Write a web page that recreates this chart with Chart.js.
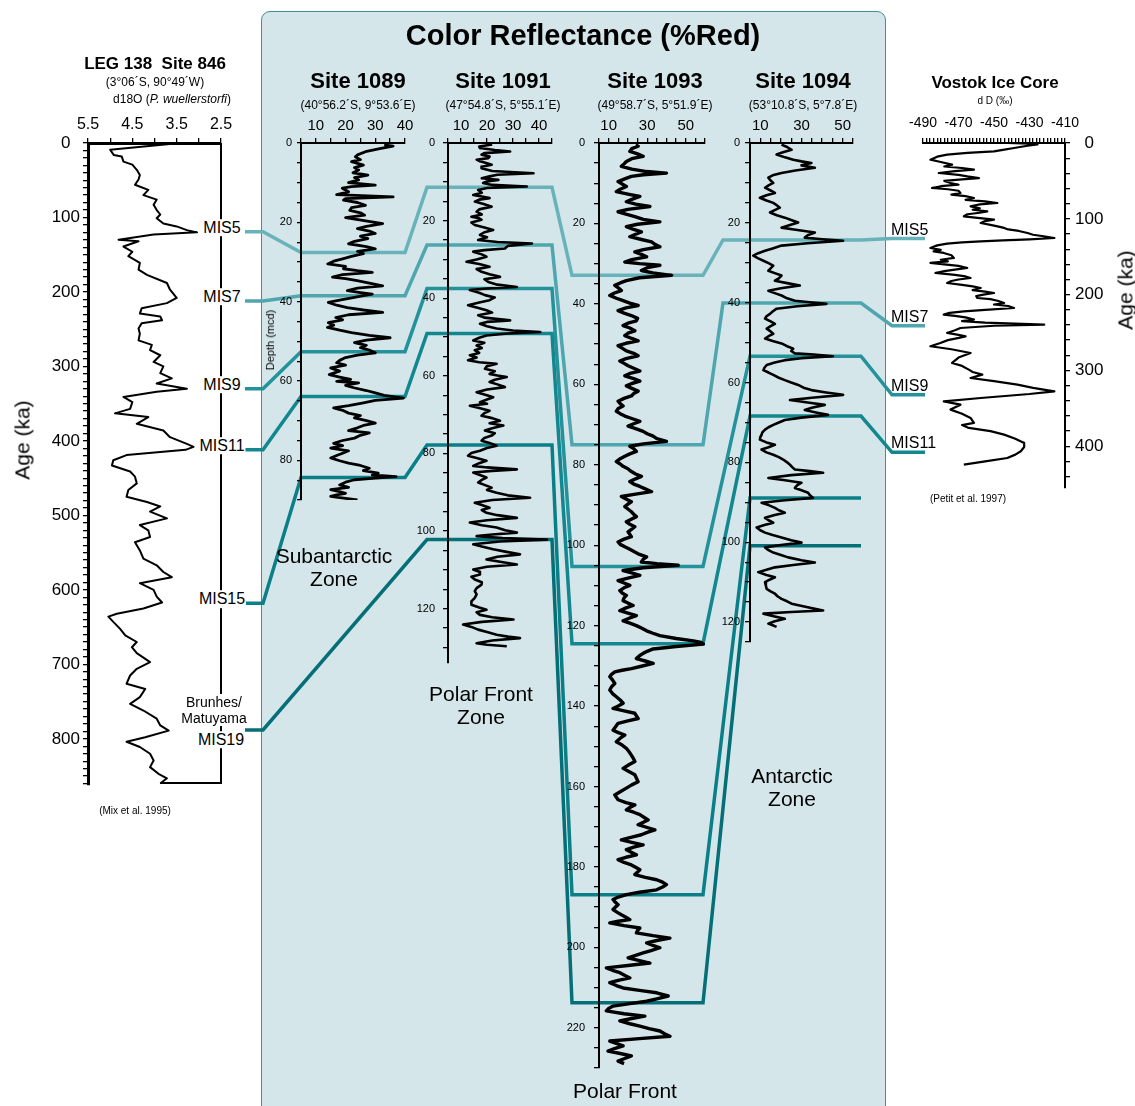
<!DOCTYPE html>
<html>
<head>
<meta charset="utf-8">
<script src="https://cdn.jsdelivr.net/npm/chart.js@4.4.0/dist/chart.umd.min.js"></script>
<style>
  body { margin: 0; background: #fff; font-family: 'Liberation Sans', Arial, sans-serif; }
  #page { position: relative; width: 1135px; height: 1106px; overflow: hidden; }
  .box { position: absolute; left: 261px; top: 11px; width: 623px; height: 1130px; background: #d4e6ea;
         border: 1.5px solid #3f9198; border-radius: 9px; z-index: 0; }
  canvas { position: absolute; }
  .t { position: absolute; transform: translate(-50%, -50%); white-space: nowrap; line-height: 1.1;
       text-align: center; color: #000; z-index: 5; }
</style>
</head>
<body>
<div id="page"><div class="box"></div></div>
<script>
// ---- data -------------------------------------------------------------

// LEG 138 Site 846, d18O vs age (ka)
const ageLeg138 = [0, 9, 16, 18, 25, 29, 36, 43, 49, 56, 63, 70, 76, 83, 90, 96, 101, 108, 112, 117, 120, 123, 130, 132, 139, 146, 152, 161, 170, 177, 188, 197, 208, 215, 222, 229, 233, 238, 242, 249, 256, 265, 271, 278, 285, 294, 300, 309, 316, 323, 330, 334, 341, 348, 357, 363, 368, 377, 386, 395, 404, 408, 412, 419, 426, 433, 441, 448, 457, 466, 475, 482, 488, 495, 504, 513, 520, 529, 536, 547, 558, 567, 576, 583, 591, 600, 609, 617, 625, 632, 636, 643, 652, 661, 670, 677, 685, 697, 706, 715, 726, 733, 744, 753, 762, 773, 782, 789, 798, 804, 811, 820, 829, 838, 847, 853, 860];
const d18O = [3.42, 5.0, 4.92, 4.74, 4.7, 4.5, 4.4, 4.33, 4.36, 4.44, 4.14, 4.25, 3.95, 4.02, 3.95, 3.87, 3.95, 3.8, 3.5, 3.27, 3.04, 4.02, 4.81, 4.36, 4.7, 4.5, 4.59, 4.33, 4.36, 4.17, 3.72, 3.65, 3.5, 3.72, 4.29, 4.33, 3.87, 3.83, 4.29, 4.36, 4.33, 4.36, 4.06, 4.1, 3.87, 4.02, 3.8, 3.87, 3.61, 3.95, 3.27, 3.95, 4.7, 4.5, 4.55, 4.89, 4.14, 4.4, 3.8, 3.65, 3.27, 3.12, 3.3, 4.63, 4.93, 4.96, 4.55, 4.44, 4.4, 4.59, 4.63, 4.17, 3.87, 4.1, 3.72, 4.33, 4.14, 4.1, 4.44, 4.33, 4.25, 3.95, 3.8, 3.61, 4.33, 4.02, 3.95, 3.83, 4.25, 4.85, 5.04, 4.93, 4.78, 4.66, 4.4, 4.51, 4.4, 4.1, 4.4, 4.55, 4.63, 4.21, 4.33, 4.55, 4.25, 3.95, 3.87, 3.68, 4.21, 4.63, 4.33, 4.1, 4.02, 4.1, 3.91, 3.72, 3.87];

// Site 1089, %Red vs depth (mcd)
const depth1089 = [0.5, 0.8, 1.4, 2.2, 3.0, 3.5, 4.2, 4.7, 5.6, 6.2, 6.8, 7.5, 8.1, 8.7, 9.3, 10, 10.6, 11.0, 11.4, 12.3, 13, 13.6, 14.0, 14.4, 15.0, 15.7, 16.3, 17, 17.6, 18.2, 18.8, 20.3, 21.0, 21.6, 22.2, 22.8, 23.5, 24.1, 24.8, 25.4, 26.1, 26.7, 27.3, 27.9, 28.6, 29.2, 29.8, 30.5, 31.1, 31.7, 32.2, 32.6, 33.2, 33.8, 34.2, 34.7, 35.3, 36, 36.6, 37.2, 37.7, 38.1, 38.5, 38.9, 39.6, 40.2, 40.9, 41.5, 42.1, 42.7, 43.3, 44, 44.6, 45.3, 45.9, 46.5, 47.2, 47.8, 48.5, 49.1, 49.7, 50.3, 51, 51.6, 52.2, 52.9, 53.5, 54.1, 54.8, 55.4, 56, 56.7, 57.5, 58.4, 59, 59.6, 60.1, 60.5, 61.1, 61.7, 62.4, 63, 63.6, 64.3, 64.9, 65.5, 66.2, 66.8, 67.4, 68.1, 68.7, 69.3, 70, 70.6, 71.2, 71.8, 72.5, 73.1, 73.7, 74.4, 75, 75.7, 76.3, 76.9, 77.6, 78.2, 78.8, 79.4, 80.1, 80.7, 81.3, 82, 82.6, 83.2, 83.7, 84.1, 84.5, 84.9, 85.5, 86.2, 86.8, 87.4, 87.9, 88.3, 88.7, 89.1, 89.6, 90];
const red1089 = [33, 36, 31.5, 26.7, 24, 23.3, 25, 22, 26, 23, 24.4, 22.5, 27.5, 23, 24.4, 21, 30, 22, 18.9, 21, 17, 36, 20, 19.3, 24, 26.7, 22, 21.4, 25, 26.4, 20, 32.5, 27, 24, 28, 30, 25, 27.5, 23, 21, 27, 30, 24, 26, 22, 19, 16, 14, 20, 19.3, 24, 29, 19, 15.6, 20, 23.9, 28, 32.5, 24, 20.6, 25, 29, 26, 23, 18, 14.2, 17, 20.6, 26, 32.5, 21, 16.7, 19, 14.2, 16, 13.9, 18, 22, 28, 35, 27, 23, 27, 25, 28, 30, 24, 20, 18, 17, 20, 15, 18, 14.5, 18, 21.7, 17, 24.4, 20, 22.8, 27, 30, 33, 39.5, 30, 26, 21, 16, 19, 21, 25, 23, 27, 30, 26, 24, 21, 28, 25, 23, 19, 16, 19, 15, 21, 19, 17, 15, 18, 21, 25, 28, 26, 31, 29, 37, 30, 23, 20, 18, 21, 15, 18, 20, 17, 15, 20, 24];

// Site 1091
const depth1091 = [0.4, 0.9, 1.3, 1.8, 2.2, 2.6, 3, 3.5, 3.9, 4.3, 4.7, 5.2, 5.6, 6.1, 6.5, 7.2, 7.8, 8.2, 8.6, 9.1, 9.5, 9.9, 10.3, 10.8, 11.2, 11.6, 12.1, 12.8, 13.4, 13.8, 14.2, 14.6, 15.1, 15.8, 16.4, 17.1, 17.7, 18.4, 19, 19.4, 19.8, 20.5, 21.1, 21.8, 22.4, 23, 23.7, 24.3, 25, 25.5, 25.9, 26.5, 27.2, 27.6, 28, 28.7, 29.3, 30, 30.6, 31.2, 31.9, 32.5, 33.2, 33.8, 34.5, 35.1, 35.8, 36.5, 37.1, 37.5, 37.9, 38.6, 39.2, 39.8, 40.5, 41.1, 41.8, 42.4, 43.1, 43.7, 44.4, 45, 45.7, 46.1, 46.6, 47.2, 47.8, 48.3, 48.7, 49.1, 49.6, 50.2, 50.9, 51.5, 52.2, 52.8, 53.4, 54.1, 54.7, 55.3, 56, 56.5, 56.9, 57.5, 58.2, 58.8, 59.5, 59.9, 60.3, 61, 61.6, 62.2, 62.9, 63.5, 64.2, 64.8, 65.5, 66.1, 66.8, 67.2, 67.7, 68.3, 69, 69.6, 70.3, 70.9, 71.6, 72.2, 72.8, 73.5, 74.1, 74.8, 75.4, 76, 76.7, 77.3, 78, 78.6, 79.3, 79.9, 80.6, 81.2, 81.9, 82.5, 83.2, 83.6, 84.1, 84.5, 84.9, 85.5, 86.2, 86.8, 87.5, 88.1, 88.8, 89.4, 90.1, 90.8, 91.4, 92, 92.7, 93.3, 94, 94.6, 95.3, 95.9, 96.6, 97.2, 97.8, 98.5, 99.1, 99.8, 100.4, 100.9, 101.3, 101.8, 102.2, 102.7, 103.4, 104, 104.7, 105.3, 106, 106.6, 107.3, 107.9, 108.6, 109.2, 109.9, 110.5, 111.2, 111.8, 112.5, 113.2, 113.8, 114.7, 115.5, 116.3, 117.2, 118.1, 119, 119.7, 120.3, 120.9, 121.6, 122.2, 122.8, 123.4, 124.1, 124.7, 125.4, 126, 126.7, 127.2, 127.6, 128.2, 128.9, 129.3, 129.7];
const red1091 = [22, 17, 17.3, 23, 28.9, 19, 17.9, 21, 20.5, 16, 17.3, 20, 21.8, 18, 17.9, 22, 37.9, 24, 21, 18, 24.4, 20, 18.5, 22, 35.3, 20, 16.6, 18, 14.7, 18, 21, 17, 15.3, 19, 21.8, 17, 16, 18, 14, 17, 17.9, 14, 15.3, 19, 22.4, 19, 17.3, 20, 16.6, 24, 37.3, 28, 26.9, 19, 14.7, 18, 19.8, 16, 12.1, 17, 21, 16, 17.9, 21, 25, 19, 20.5, 24, 31.5, 20, 13.4, 17, 19.2, 23, 21, 17, 12.7, 16, 19.8, 22, 16.6, 19, 28.9, 20, 17.3, 20, 23.7, 30, 40.5, 28, 19.8, 17, 14.7, 19, 16, 18, 15.3, 17, 13.4, 16, 12.7, 17, 23.7, 20, 19.2, 23, 21, 24, 27.6, 23, 21, 24, 26.9, 20, 16, 19, 22.4, 20, 17.3, 20, 13.4, 17, 21, 19, 17.9, 22, 25, 21, 26.3, 22, 19.2, 23, 21.8, 19, 17.9, 21, 23.7, 20, 17.3, 14, 12.7, 16, 19.8, 17, 14.7, 20, 31.5, 22, 14.7, 17, 19.8, 18, 16.6, 19, 21.8, 20, 23.7, 28, 36.6, 22, 15.3, 18, 21, 18, 19.8, 24, 31.5, 20, 13.4, 18, 23.7, 27, 31.5, 22, 16, 26, 43, 25, 14.7, 18, 22.4, 27, 32.7, 24, 19.8, 25, 31.5, 20, 14.7, 17, 17.3, 14, 15.3, 18, 17.9, 16, 15.3, 16, 15.3, 14, 14, 17, 19.8, 16, 17.3, 22, 30.2, 18, 10.8, 14, 16.6, 20, 23.7, 28, 32.7, 22, 16, 20, 27.6];

// Site 1093
const depth1093 = [0.5, 0.8, 1.4, 2.1, 2.7, 3.3, 3.9, 4.6, 5.2, 5.8, 6.5, 7.1, 7.5, 7.9, 8.3, 9, 9.6, 10.2, 10.8, 11.5, 12.1, 12.7, 13.3, 14, 14.6, 15.2, 15.8, 16.5, 17.1, 17.7, 18.3, 19, 19.6, 20.2, 20.8, 21.5, 22.1, 22.7, 23.3, 24, 24.6, 25.2, 25.8, 26.5, 27.1, 27.7, 28.3, 29, 29.6, 30, 30.4, 31, 31.7, 32.3, 32.9, 33.5, 34.2, 34.8, 35.4, 36, 36.7, 37.3, 37.9, 38.6, 39.2, 39.8, 40.4, 41, 41.7, 42.3, 42.9, 43.6, 44.2, 44.8, 45.4, 46, 46.7, 47.3, 47.9, 48.6, 49.2, 49.8, 50.4, 51, 51.7, 52.3, 52.9, 53.6, 54.2, 54.8, 55.4, 56, 56.7, 57.3, 57.9, 58.6, 59.2, 59.8, 60.4, 61, 61.7, 62.3, 62.9, 63.5, 64.2, 64.8, 65.4, 66, 66.7, 67.3, 67.9, 68.5, 69.2, 69.8, 70.4, 71, 71.7, 72.3, 72.9, 73.5, 74.2, 74.8, 75.4, 76, 76.7, 77.3, 77.9, 78.5, 79.2, 79.8, 80.4, 81, 81.7, 82.3, 82.9, 83.5, 84.2, 84.8, 85.4, 86, 86.7, 87.3, 87.9, 88.5, 89.2, 89.8, 90.4, 91, 91.7, 92.3, 92.9, 93.5, 94.2, 94.8, 95.4, 96, 96.7, 97.3, 97.9, 98.5, 99.2, 99.8, 100.4, 101, 101.7, 102.3, 102.9, 103.5, 104.2, 104.6, 105, 105.6, 106.3, 106.9, 107.5, 108.2, 108.8, 109.4, 110, 110.6, 111.3, 111.9, 112.5, 113.1, 113.8, 114.4, 115, 115.6, 116.3, 116.9, 117.5, 118.1, 118.8, 119.4, 120, 120.6, 121.3, 121.9, 122.5, 123.2, 123.8, 124.2, 124.6, 125.2, 125.8, 126.4, 126.9, 127.5, 128.2, 128.8, 129.4, 130.1, 130.7, 131.1, 131.5, 132.1, 132.7, 133.5, 134.4, 135.2, 136, 136.9, 137.7, 138.5, 139.3, 140, 140.6, 141.2, 141.8, 142.5, 143.1, 143.7, 144.3, 145.2, 146, 146.6, 147.2, 148, 148.9, 149.7, 150.5, 151.3, 152.2, 153, 153.8, 154.6, 155.5, 156.3, 157.1, 158, 158.8, 159.6, 160.4, 161.3, 162.1, 162.7, 163.3, 164, 164.6, 165.2, 165.8, 166.4, 167, 167.7, 168.3, 168.9, 169.5, 170.2, 170.8, 171.4, 172, 172.7, 173.3, 173.9, 174.5, 175.1, 175.7, 176.4, 177, 177.6, 178.2, 178.9, 179.5, 180.1, 180.7, 181.3, 181.9, 182.6, 183.2, 183.8, 184.4, 185, 185.7, 186.3, 186.9, 187.5, 188.1, 188.8, 189.4, 190, 190.6, 191.3, 191.9, 192.5, 193.1, 193.5, 193.9, 194.6, 195.2, 195.8, 196.4, 197.1, 197.7, 198.3, 198.9, 199.5, 200.1, 200.8, 201.4, 202, 202.6, 203.3, 203.9, 204.5, 205.1, 205.7, 206.3, 207, 207.6, 208.2, 208.8, 209.5, 210.1, 210.7, 211.3, 212.1, 212.8, 213.4, 214, 214.6, 215.2, 215.8, 216.5, 217.1, 217.7, 218.3, 219, 219.6, 220.2, 220.8, 221.5, 222.1, 222.7, 223.3, 223.9, 224.5, 225.2, 225.8, 226.4, 227, 227.7, 228.3, 228.9];
const red1093 = [24, 25.3, 22, 21, 25, 27.9, 22, 19.2, 18, 16.6, 22, 29.7, 40, 28, 21.8, 18, 14.9, 17, 19.2, 16, 14, 20, 26.2, 22, 19.2, 24, 31.4, 20, 14.9, 19, 23.6, 28, 36.6, 25, 19.2, 23, 27, 24, 21, 27, 32.3, 34, 36.6, 28, 23.6, 27, 29.7, 22, 18.4, 26, 36.6, 30, 27, 33, 42.7, 26, 19.2, 16, 13.2, 15, 16.6, 13, 10.6, 14, 17.5, 21, 25.3, 19, 14.9, 18, 21.8, 25, 24.4, 20, 17.5, 21, 23.6, 20, 18.4, 22, 25.3, 19, 14.9, 17, 19.2, 23, 25.3, 19, 15.8, 18, 20.1, 23, 26.2, 21, 18.4, 23, 26.2, 22, 19.2, 22, 25.3, 23, 21.8, 18, 14.9, 16, 17.5, 15, 14, 16, 18.4, 22, 26.2, 23, 20.1, 24, 27.9, 30, 33.1, 35, 40, 28, 21, 23, 24.4, 21, 18.4, 16, 14, 16, 17.5, 20, 21.8, 24, 27, 24, 21, 23, 26.2, 29, 32.3, 24, 16.6, 19, 21.8, 20, 18.4, 20, 21.8, 23, 24.4, 22, 19.2, 21, 23.6, 22, 20.1, 21, 21.8, 18, 14.9, 16, 18.4, 21, 23.6, 26, 29.7, 28, 27, 35, 46.1, 28, 17.5, 22, 26.2, 20, 14.9, 18, 21, 18, 15.8, 17, 19.2, 18, 17.5, 20, 22.7, 19, 15.8, 20, 24.4, 21, 17.5, 21, 24.4, 27, 29.7, 33, 36.6, 45, 54, 58, 59.2, 45, 33.1, 30, 27.9, 26, 24.4, 29, 33.1, 27, 21.8, 17, 13.2, 11.5, 10.6, 12, 13.2, 11.5, 10.6, 12, 14, 16, 17.5, 15, 12.3, 18, 23.6, 24.5, 25.3, 20, 14.9, 13.5, 12.3, 15, 18.4, 16, 14, 17, 19.2, 20.5, 21.8, 22.8, 23.6, 20.5, 17.5, 20.5, 23.6, 24.5, 25.3, 22, 19.2, 16, 13.2, 14, 14.9, 19, 23.6, 21, 19.2, 23, 26.2, 28.5, 30.5, 28, 25.3, 30, 34, 30, 27, 21, 16.6, 22, 27.9, 23, 19.2, 22, 24.4, 19, 14.9, 18, 21.8, 24, 26.2, 25, 23.6, 29, 34.9, 38, 40, 38, 34.9, 26, 19.2, 15, 12.3, 13.5, 14.9, 13.5, 12.3, 14.5, 16.6, 19, 21, 15, 10.6, 18, 26.2, 25, 24.4, 33, 41.8, 35, 29.7, 33, 36.6, 32, 27.9, 24, 20.1, 26, 31.4, 20, 8.8, 12, 15.8, 18.5, 21, 15, 10.6, 14, 17.5, 26, 34.9, 40.9, 35, 29.7, 21, 12.3, 10, 8.8, 18, 28.8, 22, 15.8, 21, 26.2, 31, 36.6, 39, 41.8, 26, 10.6, 14, 17.5, 13, 9.7, 16, 21.8, 18, 14.9, 18];

// Site 1094
const depth1094 = [0.4, 1, 1.7, 2.3, 2.9, 3.6, 4.2, 4.6, 5, 5.6, 6.2, 6.9, 7.5, 8.1, 8.7, 9.4, 10, 10.6, 11.2, 11.9, 12.5, 13.1, 13.7, 14.4, 15, 15.6, 16.2, 16.8, 17.4, 18.1, 18.7, 19.3, 19.9, 20.6, 21.2, 21.8, 22.4, 23.1, 23.7, 24.1, 24.5, 25.1, 25.7, 26.4, 27, 27.6, 28.2, 28.9, 29.5, 30.1, 30.7, 31.4, 32, 32.6, 33.2, 33.9, 34.5, 35.1, 35.7, 36.4, 37, 37.6, 38.2, 38.9, 39.5, 39.9, 40.3, 40.9, 41.5, 42.2, 42.8, 43.4, 44, 44.7, 45.3, 45.9, 46.5, 47.2, 47.8, 48.4, 49, 49.6, 50.2, 50.9, 51.5, 52.1, 52.7, 53, 53.4, 53.9, 54.4, 55, 55.6, 56.3, 56.9, 57.5, 58.1, 58.8, 59.4, 60, 60.6, 61.3, 61.9, 62.5, 63.1, 63.8, 64.4, 65, 65.6, 66.3, 66.9, 67.5, 68.1, 68.8, 69.4, 70, 70.6, 71.2, 71.8, 72.5, 73.1, 73.7, 74.3, 75, 75.6, 76.2, 76.8, 77.5, 78.1, 78.7, 79.3, 80, 80.6, 81.2, 81.8, 82.2, 82.6, 83.2, 83.9, 84.5, 85.1, 85.7, 86.4, 87, 87.6, 88.2, 88.9, 89.5, 90.1, 90.7, 91.4, 92, 92.6, 93.2, 93.9, 94.5, 95.1, 95.7, 96.3, 97, 97.6, 98.2, 98.8, 99.5, 100.1, 100.7, 101.3, 102, 102.6, 103.2, 103.8, 104.5, 105.1, 105.7, 106.3, 106.9, 107.5, 108.2, 108.8, 109.4, 110, 110.9, 111.7, 112.3, 112.9, 113.6, 114.2, 114.8, 115.4, 116.3, 117.1, 117.5, 117.9, 118.6, 119.2, 119.8, 120.4, 120.8, 121.2];
const red1094 = [20.3, 23, 25.2, 21, 17.9, 22, 26, 30, 34.8, 30, 36.5, 27, 20.3, 16, 13.9, 15, 16.3, 14, 12.3, 15, 17.1, 13, 9.8, 13, 16.3, 18, 19.5, 17, 14.7, 18, 21.9, 25, 28.4, 24, 20.3, 28, 36.5, 33, 31.6, 40, 50.2, 33, 20.3, 16, 12.3, 9, 6.6, 9, 11.5, 14, 16.3, 15, 13.9, 17, 20.3, 19, 17.1, 23, 29.2, 20, 13.9, 17, 20.3, 23, 26.8, 34, 42.1, 28, 17.9, 16, 14.7, 13, 12.3, 15, 17.1, 15, 13.1, 15, 16.3, 14, 12.3, 16, 20.3, 23, 26, 25, 26.8, 36, 45.3, 30, 21.9, 17, 13.1, 12, 11.5, 14, 16.3, 19, 21.9, 25, 28.4, 31, 34.8, 42, 50.2, 35, 24.4, 33, 41.3, 35, 31.6, 37, 42.9, 30, 21.9, 19, 16.3, 14, 12.3, 11, 10.6, 10, 9.8, 13, 17.1, 14, 10.6, 13, 16.3, 19, 21.1, 23, 24.4, 25.5, 26.8, 34, 40.5, 25, 13.9, 22, 30, 28, 26.8, 30, 33.2, 34, 35.6, 22, 10.6, 14, 17.1, 19, 21.9, 17, 12.3, 14, 16.3, 12, 8.2, 10, 12.3, 16, 20.3, 25, 30, 20, 12.3, 14, 16.3, 20, 23.5, 30, 36.5, 26, 17.1, 13, 9, 13, 17.1, 14.5, 12.3, 12.7, 13.1, 15, 17.1, 18.5, 20.3, 23, 25.2, 33, 40.5, 25, 11.5, 17, 21.9, 17, 13.9, 16, 17.9];

// Vostok ice core, dD vs age (ka)
const ageVostok = [0, 1, 2, 4, 6.6, 9, 11, 13, 15.4, 18, 22, 25, 28.6, 31, 33, 35.2, 37, 39.6, 42, 44, 46.2, 48, 50, 52.7, 55, 57, 59.3, 61, 63, 65.9, 68, 70, 72.5, 75, 77, 79.1, 81, 83.5, 86, 88, 90.1, 92, 94, 96.7, 99, 101, 103, 105.5, 108, 110, 112, 114, 116, 118.7, 121, 123, 125.3, 127, 128.5, 129.7, 131, 132.7, 135, 138.5, 141, 143, 145, 148, 151.6, 154, 156, 158.2, 160, 162, 164.8, 167, 169, 171.4, 174, 176, 178, 180, 182, 184.6, 187, 189, 191.2, 194, 196, 197.8, 200, 202, 204.4, 206, 208, 211, 213, 215, 217.6, 220, 222, 224, 226.4, 228, 230, 233, 235, 237, 239.6, 241, 244, 247, 250.5, 253, 255, 257.1, 260, 263.7, 268.1, 272, 276.9, 283, 290.1, 294, 298.9, 302, 305.5, 309.9, 314, 318.7, 323, 327.5, 331, 336.3, 340.7, 345.1, 351.6, 357, 362.6, 369.2, 372, 375.8, 380, 384.6, 390, 395.6, 401, 406.6, 411, 415.4, 420, 424.2];
const dDVostok = [-442.5, -430, -425.5, -432, -438.7, -445, -450, -465, -476.4, -482, -485.8, -480, -473.6, -478, -468, -461.3, -472, -481.1, -470, -465, -458.5, -468, -478, -474.5, -470, -480, -484.9, -476, -470, -468.9, -474, -466, -461.3, -466, -455, -448.1, -458, -463.2, -458, -462, -453.8, -458, -465, -467, -458, -450, -455, -457.5, -452, -448, -444.3, -442, -436, -431.1, -428, -422, -416, -430, -445, -457.5, -468, -476.4, -482, -485.8, -480, -484, -478.3, -474, -472.6, -480, -476, -485.8, -478, -470, -465.1, -472, -478, -483, -472, -466, -463.2, -470, -474, -476.4, -468, -462, -457.5, -462, -455, -450, -456, -460, -459.4, -452, -448, -444.3, -450, -442, -438.7, -455, -467, -475, -478.3, -472, -466, -461.3, -468, -455, -421.7, -450, -468.9, -472, -476.4, -470, -466, -469.8, -476, -480.2, -485.8, -474, -463.2, -470, -473.6, -468, -464.2, -462, -456.6, -463.2, -450, -436.8, -428, -416, -430, -457.5, -478.3, -468.9, -474.5, -468, -463.2, -461.3, -468, -464.2, -452, -444.3, -438, -433, -433, -434.9, -438, -442.5, -455, -467];

// marine isotope stage tie points
const tieNames = ['MIS5', 'MIS7', 'MIS9', 'MIS11', 'MIS15', 'MIS19'];
const tieAge846 = [119, 212, 330, 412, 618, 788];
const tie1089 = [27.6, 38.5, 52.6, 63.9, 84.3, null];
const tie1091 = [11.4, 26.3, 37.5, 49.1, 77.8, 102.2];
const tie1093 = [32.9, 75.0, 105.3, 124.5, 186.9, 213.8];
const tie1094 = [24.3, 40.1, 53.4, 68.4, 88.9, 100.9];
const tieAgeVostok = [126, 241, 332, 408, null, null];

// tick labels
const ticks846X = [5.5, 4.5, 3.5, 2.5];
const ticksAge846 = [0, 100, 200, 300, 400, 500, 600, 700, 800];
const ticks1089X = [10, 20, 30, 40];
const ticks1091X = [10, 20, 30, 40];
const ticks1093X = [10, 30, 50];
const ticks1094X = [10, 30, 50];
const ticksDepth = [0, 20, 40, 60, 80, 100, 120, 140, 160, 180, 200, 220];
const ticksVostokX = [-490, -470, -450, -430, -410];
const ticksAgeVostok = [0, 100, 200, 300, 400];

// ---- drawing ----------------------------------------------------------

Chart.defaults.font.family = "'Liberation Sans', Arial, sans-serif";
Chart.defaults.color = '#000';

const page = document.getElementById('page');
const PAD = 40, YW = 40, XH = 34;

function addCanvas(x, y, w, h, z) {
    const c = document.createElement('canvas');
    c.width = w; c.height = h;
    c.style.left = x + 'px'; c.style.top = y + 'px';
    c.style.width = w + 'px'; c.style.height = h + 'px';
    c.style.zIndex = z;
    page.appendChild(c);
    return c;
}

function labelCb(list) {
    return v => list.some(l => Math.abs(l - v) < 1e-6) ? String(v) : '';
}

// one profile panel: area is the plot box in page pixels
function profile(cfg) {
    const a = cfg.area;
    const right = cfg.yPos === 'right';
    const ox = right ? a.l - PAD : a.l - YW - PAD;
    const oy = a.t - XH - PAD;
    const w = PAD + YW + (a.r - a.l) + PAD;
    const h = PAD + XH + (a.b - a.t) + PAD;
    const canvas = addCanvas(ox, oy, w, h, 2);
    const points = cfg.ys.map((v, i) => ({ x: cfg.xs[i], y: v }));
    const chart = new Chart(canvas, {
        type: 'scatter',
        data: {
            datasets: [{
                data: points, showLine: true, borderColor: '#000', borderJoinStyle: 'round',
                borderWidth: cfg.lw, pointRadius: 0, tension: 0
            }]
        },
        options: {
            responsive: false, animation: false, events: [],
            layout: { padding: PAD },
            plugins: { legend: { display: false }, tooltip: { enabled: false } },
            scales: {
                x: {
                    type: 'linear', position: 'top', min: cfg.xMin, max: cfg.xMax, reverse: !!cfg.xReverse,
                    border: { display: true, color: '#000', width: cfg.bw },
                    grid: { display: true, drawOnChartArea: false, drawTicks: true, tickLength: 5, color: '#000', lineWidth: 1.3 },
                    ticks: {
                        stepSize: cfg.xStep, autoSkip: false, maxRotation: 0, includeBounds: false, maxTicksLimit: 1000,
                        padding: cfg.xPad, font: { size: cfg.xFont }, callback: labelCb(cfg.xLabels)
                    },
                    afterFit: s => { s.height = XH; s.paddingLeft = 0; s.paddingRight = 0; }
                },
                y: {
                    type: 'linear', position: cfg.yPos || 'left', min: 0, max: cfg.yMax, reverse: true,
                    border: { display: true, color: '#000', width: cfg.bw },
                    grid: { display: true, drawOnChartArea: false, drawTicks: true, tickLength: cfg.yTick || 5, color: '#000', lineWidth: 1.3 },
                    ticks: {
                        stepSize: cfg.yStep, autoSkip: false, includeBounds: false, maxTicksLimit: 1000,
                        padding: cfg.yPad, crossAlign: cfg.yAlign || 'near', font: { size: cfg.yFont },
                        callback: labelCb(cfg.yLabels)
                    },
                    afterFit: s => { s.width = YW; s.paddingTop = 0; s.paddingBottom = 0; }
                }
            }
        },
        plugins: cfg.plugins || []
    });
    return { chart, ox, oy };
}

// right and bottom frame of the Site 846 panel
const frame846 = {
    id: 'frame846',
    afterDatasetsDraw(chart) {
        const { ctx } = chart;
        const xs = chart.scales.x, ys = chart.scales.y;
        const last = d18O[d18O.length - 1];
        ctx.save();
        ctx.strokeStyle = '#000';
        ctx.lineWidth = 2;
        ctx.beginPath();
        ctx.moveTo(xs.getPixelForValue(2.5), ys.top);
        ctx.lineTo(xs.getPixelForValue(2.5), ys.bottom - 2);
        ctx.lineTo(xs.getPixelForValue(last), ys.bottom - 2);
        ctx.stroke();
        ctx.restore();
    }
};

const p846 = profile({
    area: { l: 88, r: 221, t: 143, b: 785 },
    xs: d18O, ys: ageLeg138, xMin: 2.5, xMax: 5.5, xReverse: true, xStep: 0.5, xLabels: ticks846X,
    xFont: 16, xPad: 4, yMax: 862, yStep: 10, yLabels: ticksAge846, yFont: 17, yPad: 3,
    yAlign: 'center', yTick: 5, lw: 2, bw: 3, plugins: [frame846]
});
const p1089 = profile({
    area: { l: 301, r: 405, t: 143, b: 500 },
    xs: red1089, ys: depth1089, xMin: 5, xMax: 40, xStep: 5, xLabels: ticks1089X, xFont: 15, xPad: 3,
    yMax: 90, yStep: 5, yLabels: ticksDepth, yFont: 11, yPad: 5, yTick: 4, lw: 2.8, bw: 2
});
const p1091 = profile({
    area: { l: 448, r: 552, t: 143, b: 663 },
    xs: red1091, ys: depth1091, xMin: 5, xMax: 45, xStep: 5, xLabels: ticks1091X, xFont: 15, xPad: 3,
    yMax: 134, yStep: 5, yLabels: ticksDepth, yFont: 11, yPad: 8, lw: 2.6, bw: 2
});
const p1093 = profile({
    area: { l: 599, r: 705, t: 143, b: 1068 },
    xs: red1093, ys: depth1093, xMin: 5, xMax: 60, xStep: 5, xLabels: ticks1093X, xFont: 15, xPad: 3,
    yMax: 230, yStep: 5, yLabels: ticksDepth, yFont: 11, yPad: 9, lw: 3.4, bw: 2
});
const p1094 = profile({
    area: { l: 750, r: 853, t: 143, b: 642 },
    xs: red1094, ys: depth1094, xMin: 5, xMax: 55, xStep: 5, xLabels: ticks1094X, xFont: 15, xPad: 3,
    yMax: 125, yStep: 5, yLabels: ticksDepth, yFont: 11, yPad: 5, lw: 2.6, bw: 2
});
const pVostok = profile({
    area: { l: 923, r: 1065, t: 143, b: 488 },
    xs: dDVostok, ys: ageVostok, xMin: -490, xMax: -410, xStep: 2, xLabels: ticksVostokX, xFont: 14, xPad: 6,
    yMax: 455, yStep: 20, yLabels: ticksAgeVostok, yPos: 'right', yFont: 17, yPad: 5,
    yAlign: 'center', lw: 2.2, bw: 2
});

// correlation lines between the panels, placed through each panel's scales
const tieColors = ['#68b2ba', '#4fa6ae', '#23929a', '#12878f', '#0b7f88', '#046f77'];
const tiePanels = [
    { p: p846, vals: tieAge846, dl: 157, dr: 42 },
    { p: p1089, vals: tie1089, dl: 0, dr: 0 },
    { p: p1091, vals: tie1091, dl: -21, dr: 0 },
    { p: p1093, vals: tie1093, dl: -27, dr: -2 },
    { p: p1094, vals: tie1094, dl: -27, dr: 8, steep: true },
    { p: pVostok, vals: tieAgeVostok, dl: -31, dr: -140 }
];

const tieLines = {
    id: 'tieLines',
    afterDraw(chart) {
        const { ctx } = chart;
        ctx.save();
        ctx.lineWidth = 3.5;
        ctx.lineJoin = 'miter';
        tieNames.forEach((name, k) => {
            const pts = [];
            tiePanels.forEach(tp => {
                const v = tp.vals[k];
                if (v == null) return;
                const xs = tp.p.chart.scales.x, ys = tp.p.chart.scales.y;
                const y = tp.p.oy + ys.getPixelForValue(v);
                let x0 = tp.p.ox + xs.left + tp.dl;
                const x1 = tp.p.ox + xs.right + tp.dr;
                if (tp.steep && pts.length && Math.abs(pts[pts.length - 1][1] - y) > 150) x0 = tp.p.ox + xs.left;
                pts.push([x0, y], [x1, y]);
            });
            ctx.strokeStyle = tieColors[k];
            ctx.beginPath();
            pts.forEach((p, i) => i ? ctx.lineTo(p[0], p[1]) : ctx.moveTo(p[0], p[1]));
            ctx.stroke();
        });
        ctx.restore();
    }
};

new Chart(addCanvas(0, 0, 1135, 1106, 1), {
    type: 'scatter',
    data: { datasets: [] },
    options: {
        responsive: false, animation: false, events: [],
        layout: { padding: 0 },
        plugins: { legend: { display: false }, tooltip: { enabled: false } },
        scales: { x: { display: false }, y: { display: false } }
    },
    plugins: [tieLines]
});

// ---- text ---------------------------------------------------------------

function text(html, x, y, css) {
    const d = document.createElement('div');
    d.className = 't';
    d.innerHTML = html;
    d.style.left = x + 'px';
    d.style.top = y + 'px';
    d.style.cssText += css || '';
    page.appendChild(d);
    return d;
}

text('Color Reflectance (%Red)', 583, 36, 'font-size:29px;font-weight:bold;');
const sites = [
    ['Site 1089', '(40°56.2´S, 9°53.6´E)', 358],
    ['Site 1091', '(47°54.8´S, 5°55.1´E)', 503],
    ['Site 1093', '(49°58.7´S, 5°51.9´E)', 655],
    ['Site 1094', '(53°10.8´S, 5°7.8´E)', 803]
];
sites.forEach(s => {
    text(s[0], s[2], 81, 'font-size:22px;font-weight:bold;');
    text(s[1], s[2], 106, 'font-size:12px;');
});

text('LEG 138&nbsp; Site 846', 155, 64, 'font-size:17px;font-weight:bold;');
text('(3°06´S, 90°49´W)', 155, 83, 'font-size:12px;');
text('d18O (<i>P. wuellerstorfi</i>)', 172, 100, 'font-size:12px;');
text('(Mix et al. 1995)', 135, 810, 'font-size:10px;');
text('Age (ka)', 22, 440, 'font-size:21px;transform:translate(-50%,-50%) rotate(-90deg);');

text('Vostok Ice Core', 995, 83, 'font-size:17px;font-weight:bold;');
text('d D (‰)', 995, 100, 'font-size:10px;');
text('(Petit et al. 1997)', 968, 498, 'font-size:10px;');
text('Age (ka)', 1125, 290, 'font-size:21px;transform:translate(-50%,-50%) rotate(-90deg);');

text('Depth (mcd)', 270, 340, 'font-size:11px;transform:translate(-50%,-50%) rotate(-90deg);');

text('Subantarctic<br>Zone', 334, 567, 'font-size:21px;');
text('Polar Front<br>Zone', 481, 705, 'font-size:21px;');
text('Antarctic<br>Zone', 792, 787, 'font-size:21px;');
text('Polar Front', 625, 1091, 'font-size:21px;');

// stage labels at the tie points
const ys846 = p846.chart.scales.y;
tieNames.forEach((name, k) => {
    const y = p846.oy + ys846.getPixelForValue(tieAge846[k]);
    if (name === 'MIS19') {
        text('Brunhes/<br>Matuyama', 214, y - 20, 'font-size:14px;line-height:16px;background:#fff;');
        text(name, 221, y + 10, 'font-size:16px;background:#fff;padding:0 1px;');
    } else {
        text(name, 222, y - 4, 'font-size:16px;background:#fff;padding:0 1px;');
    }
});
const ysV = pVostok.chart.scales.y;
tieNames.forEach((name, k) => {
    if (tieAgeVostok[k] == null) return;
    const y = pVostok.oy + ysV.getPixelForValue(tieAgeVostok[k]);
    text(name, 891, y - 9, 'font-size:16px;transform:translate(0,-50%);');
});
</script>
</body>
</html>
